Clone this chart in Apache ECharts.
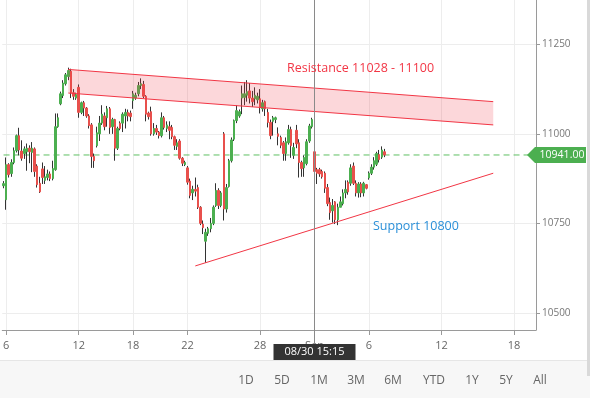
<!DOCTYPE html>
<html><head><meta charset="utf-8">
<script src="https://cdn.jsdelivr.net/npm/echarts@6/dist/echarts.min.js"></script>
<style>html,body{margin:0;padding:0;background:#fff}#c{width:590px;height:398px}</style>
</head><body><div id="c"></div>
<script>
// ---- data (hourly candles, Aug 5 15:15 .. Sep 6 15:15) ----
const pastDays = ['08/06','08/07','08/08','08/09','08/13','08/14','08/16','08/19','08/20','08/21','08/22','08/23','08/26','08/27','08/28','08/29','08/30','09/03','09/04','09/05','09/06'];
const futureDays = ['09/09','09/10','09/11','09/12','09/13','09/16','09/17','09/18','09/19'];
const hours = ['09:15','10:15','11:15','12:15','13:15','14:15','15:15'];
const totalSlots = 206;

const opens = [10855,
 10816,10914,10889,10920,10953,10995,10952,
 10945,10950,10960,10948,10958,10910,10862,
 10902,10870,10878,10888,10875,10900,11020,
 11084,11107,11140,11160,11175,11115,11100,
 11130,11060,11087,11072,11050,11025,10937,
 10967,11000,11030,11050,11045,11070,11020,
 11040,10960,11030,11030,11050,11060,11058,
 11093,11100,11112,11135,11138,11105,11058,
 11062,11000,11015,11005,10995,11045,11015,
 11020,11018,10992,10965,10980,10932,10914,
 10905,10868,10835,10845,10850,10795,10748,
 10700,10722,10735,10750,10800,10842,10800,
 11000,10790,10853,10925,10985,11037,11050,
 11100,11102,11108,11120,11100,11098,11095,
 11098,11070,11090,11060,11032,11035,11040,
 11000,10990,10975,10945,10975,11012,10940,
 11010,10975,10920,10905,10917,10980,11020,
 10950,10900,10900,10895,10890,10850,10808,
 10785,10810,10760,10795,10805,10835,10865,
 10862,10910,10862,10835,10860,10835,10858,
 10877,10890,10907,10915,10942,10935,10950];
const closes = [10861,
 10914,10886,10920,10953,10995,10955,10932,
 10958,10960,10950,10960,10895,10858,10838,
 10878,10880,10888,10875,10903,11020,11045,
 11112,11142,11165,11177,11115,11105,11110,
 11060,11087,11072,11050,11023,10937,10925,
 11003,11030,11055,11020,11070,11018,11040,
 10960,11015,11015,11055,11060,11050,11048,
 11112,11108,11135,11140,11105,11055,11048,
 11000,11015,11005,10995,11045,11018,11025,
 11010,10992,10968,10975,10932,10918,10920,
 10865,10828,10845,10840,10795,10750,10738,
 10725,10735,10750,10795,10842,10800,10835,
 10790,10850,10925,10983,11037,11065,11062,
 11112,11112,11118,11100,11090,11108,11105,
 11073,11087,11070,11032,10995,11045,11045,
 10993,10968,10945,10978,11012,10967,10962,
 10972,10920,10903,10934,10978,11022,11040,
 10895,10890,10888,10880,10848,10805,10780,
 10800,10760,10795,10810,10835,10845,10838,
 10905,10862,10835,10860,10835,10862,10848,
 10890,10907,10925,10945,10928,10955,10941];
const lows = [10848,
 10788,10878,10880,10915,10948,10940,10925,
 10930,10897,10918,10893,10880,10850,10835,
 10860,10860,10870,10868,10870,10897,11017,
 11080,11100,11135,11150,11100,11095,11095,
 11045,11055,11050,11045,11015,10905,10905,
 10962,10980,11025,11010,11020,11000,11000,
 10925,10955,11010,11005,11015,11035,11035,
 11070,11095,11105,11125,11100,11035,11040,
 10995,10995,10997,10987,10990,11012,11005,
 10985,10985,10955,10955,10928,10910,10910,
 10858,10820,10815,10825,10790,10745,10720,
 10640,10715,10725,10745,10796,10790,10795,
 10758,10780,10850,10920,10980,11030,11045,
 11055,11080,11090,11085,11075,11080,11085,
 11057,11062,11050,11018,10985,10995,11030,
 10968,10960,10925,10925,10970,10933,10930,
 10960,10878,10880,10880,10912,10975,11015,
 10870,10860,10880,10875,10835,10798,10760,
 10752,10748,10745,10795,10800,10820,10830,
 10855,10857,10825,10822,10823,10825,10845,
 10872,10885,10900,10910,10920,10930,10935];
const highs = [10868,
 10934,10918,10929,10962,10998,11017,10982,
 10965,10973,10968,10977,10962,10915,10880,
 10920,10910,10900,10895,10925,11057,11057,
 11118,11150,11170,11185,11182,11125,11115,
 11138,11090,11092,11075,11055,11030,10945,
 11020,11050,11080,11060,11078,11075,11045,
 11042,11020,11035,11060,11070,11068,11065,
 11120,11115,11145,11155,11148,11108,11062,
 11076,11030,11025,11008,11060,11050,11035,
 11035,11025,10995,10985,10985,10935,10925,
 10910,10875,10855,10878,10858,10798,10758,
 10735,10740,10765,10800,10862,10848,10840,
 11005,10860,10930,10990,11040,11080,11068,
 11135,11145,11150,11142,11120,11130,11115,
 11125,11095,11093,11070,11040,11050,11048,
 11018,10995,10980,10990,11025,11020,10975,
 11025,10985,10925,10940,10985,11028,11045,
 10960,10905,10905,10900,10895,10860,10822,
 10818,10812,10805,10825,10845,10870,10870,
 10915,10920,10870,10865,10865,10866,10860,
 10895,10915,10935,10950,10955,10965,10958];

const xTickIndex = [1, 29, 50, 71, 99, 120, 141, 169, 197];
const xTickText  = ['6', '12', '18', '22', '28', 'Sep', '6', '12', '18'];
const yTicks = [10500, 10750, 11000, 11250];
const yMin = 10452, yMax = 11374;

const resistIdx = [25, 189];
const resistUpper = [11180, 11090];
const resistLower = [11114, 11025];
const supportIdx = [74, 189];
const supportVals = [10631, 10890];
const lastPrice = 10941;
const crossIdx = 119;
const crossLabel = '08/30 15:15';
const rangeButtons = ['1D','5D','1M','3M','6M','YTD','1Y','5Y','All'];

// ---- build ----
const slotNames = ['08/05 15:15'];
pastDays.concat(futureDays).forEach(d => hours.forEach(h => slotNames.push(d + ' ' + h)));
slotNames.length = totalSlots;

const tickMap = {};
xTickIndex.forEach((i, k) => tickMap[i] = xTickText[k]);
const isTick = (i) => tickMap.hasOwnProperty(i);

const wickData = opens.map((o, i) => [o, closes[i], lows[i], highs[i]]);
const bodyData = opens.map((o, i) => [o, closes[i], Math.min(o, closes[i]), Math.max(o, closes[i])]);

const UP = '#4caf50', DOWN = '#e8504c', WICK = '#333333', RED = '#f23645', DASH = '#5fbf62';
const FONT = 'Open Sans';

const chart = echarts.init(document.getElementById('c'));
chart.setOption({
  animation: false,
  backgroundColor: '#fff',
  grid: { left: 0, right: 54, top: 0, bottom: 68 },
  xAxis: {
    type: 'category', data: slotNames, boundaryGap: true,
    axisLine: { lineStyle: { color: '#9a9a9a' } },
    axisTick: { show: true, length: 5, alignWithLabel: true, interval: isTick, lineStyle: { color: '#9a9a9a' } },
    axisLabel: { interval: isTick, formatter: (v, i) => tickMap[i] || '', color: '#666', fontSize: 11, margin: 10, fontFamily: FONT },
    splitLine: { show: true, interval: isTick, alignWithLabel: true, lineStyle: { color: '#ededed' } }
  },
  yAxis: {
    type: 'value', position: 'right', min: yMin, max: yMax,
    axisLine: { show: true, lineStyle: { color: '#9a9a9a' } },
    axisTick: { show: true, length: 4, customValues: yTicks, lineStyle: { color: '#9a9a9a' } },
    axisLabel: { customValues: yTicks, formatter: (v) => String(v), color: '#777', fontSize: 10, margin: 6, fontFamily: FONT },
    splitLine: { show: true, lineStyle: { color: '#ededed' } }
  },
  series: [
    {
      type: 'line', z: 1, silent: true, symbol: 'none',
      data: [[0, lastPrice], [totalSlots - 1, lastPrice]],
      lineStyle: { color: DASH, type: [6, 4], width: 1 }
    },
    {
      type: 'candlestick', data: wickData, barWidth: 1, z: 2, silent: true,
      itemStyle: { color: WICK, color0: WICK, borderColor: WICK, borderColor0: WICK, borderWidth: 1 }
    },
    {
      type: 'candlestick', data: bodyData, barWidth: 2, z: 3, silent: true,
      itemStyle: { color: UP, color0: DOWN, borderColor: UP, borderColor0: DOWN, borderWidth: 1 }
    },
    {
      type: 'custom', z: 5, silent: true, data: [0],
      renderItem: function (params, api) {
        const a1 = api.coord([resistIdx[0], resistUpper[0]]);
        const a2 = api.coord([resistIdx[1], resistUpper[1]]);
        const b1 = api.coord([resistIdx[0], resistLower[0]]);
        const b2 = api.coord([resistIdx[1], resistLower[1]]);
        return {
          type: 'group', children: [
            { type: 'polygon', shape: { points: [a1, a2, b2, b1] }, style: { fill: 'rgba(242,54,69,0.2)' } },
            { type: 'line', shape: { x1: a1[0], y1: a1[1], x2: a2[0], y2: a2[1] }, style: { stroke: RED, lineWidth: 1 } },
            { type: 'line', shape: { x1: b1[0], y1: b1[1], x2: b2[0], y2: b2[1] }, style: { stroke: RED, lineWidth: 1 } }
          ]
        };
      }
    },
    {
      type: 'line', z: 5, silent: true, symbol: 'none',
      data: supportIdx.map((i, k) => [i, supportVals[k]]),
      lineStyle: { color: RED, width: 1 }
    }
  ]
});

// ---- overlay graphics placed via the chart's scales ----
const px = (i, v) => chart.convertToPixel({ xAxisIndex: 0, yAxisIndex: 0 }, [i, v]);
const c0 = px(crossIdx, lastPrice), c1 = px(crossIdx + 1, lastPrice);
const crossX = Math.round(c0[0] + 0.7 * (c1[0] - c0[0])) + 0.5;
const tagY = px(0, lastPrice)[1];
const btnX = [246, 282, 319, 356, 393, 434, 472, 506, 540];

const graphics = [
  { type: 'rect', z: 1, shape: { x: 0, y: 360, width: 590, height: 38 }, style: { fill: '#f7f7f7' } },
  { type: 'line', z: 1, shape: { x1: 0, y1: 360.5, x2: 590, y2: 360.5 }, style: { stroke: '#e6e6e6', lineWidth: 1 } },
  { type: 'rect', z: 1, shape: { x: 587, y: 0, width: 3, height: 376 }, style: { fill: '#d9d9d9' } },
  { type: 'line', z: 50, shape: { x1: crossX, y1: 0, x2: crossX, y2: 344 }, style: { stroke: '#8a8a8a', lineWidth: 1 } },
  { type: 'rect', z: 51, shape: { x: crossX - 41, y: 344, width: 82, height: 16 }, style: { fill: '#333333' } },
  { type: 'text', z: 52, x: crossX, y: 352, style: { text: crossLabel, fill: '#fff', font: '11px "Open Sans"', align: 'center', verticalAlign: 'middle' } },
  { type: 'polygon', z: 51, shape: { points: [[527, tagY], [535, tagY - 8], [586, tagY - 8], [586, tagY + 8], [535, tagY + 8]] }, style: { fill: '#4caf50' } },
  { type: 'text', z: 52, x: 562, y: tagY, style: { text: lastPrice.toFixed(2), fill: '#fff', font: '10.5px "Open Sans"', align: 'center', verticalAlign: 'middle' } },
  { type: 'text', z: 52, x: 287, y: 68, style: { text: 'Resistance 11028 - 11100', fill: RED, font: '12.5px "Open Sans"', align: 'left', verticalAlign: 'middle' } },
  { type: 'text', z: 52, x: 373, y: 226, style: { text: 'Support 10800', fill: '#2a8fd8', font: '12.5px "Open Sans"', align: 'left', verticalAlign: 'middle' } }
];
rangeButtons.forEach((t, k) => graphics.push({
  type: 'text', z: 52, x: btnX[k], y: 381,
  style: { text: t, fill: '#666', font: '12px "Open Sans"', align: 'center', verticalAlign: 'middle' }
}));
chart.setOption({ graphic: graphics });
</script>
</body></html>
